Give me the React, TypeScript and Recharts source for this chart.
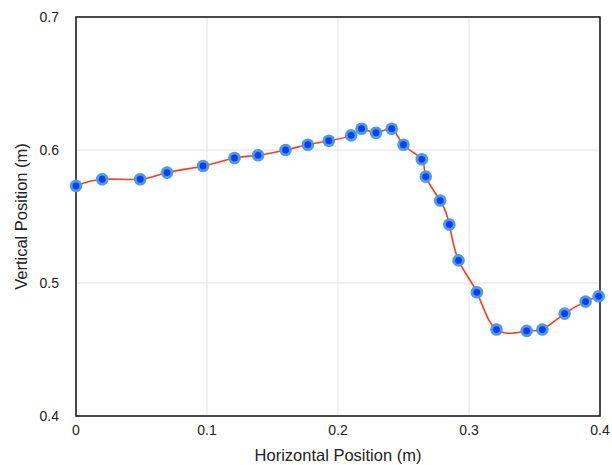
import { CartesianGrid, Line, LineChart, ReferenceArea, XAxis, YAxis } from 'recharts';

const horizontal = [
  0, 0.02, 0.049, 0.0695, 0.097, 0.121, 0.139, 0.16, 0.177, 0.193, 0.21, 0.218, 0.229, 0.241,
  0.25, 0.264, 0.267, 0.278, 0.285, 0.292, 0.306, 0.321, 0.344, 0.356, 0.373, 0.389, 0.399
];
const vertical = [
  0.573, 0.578, 0.578, 0.583, 0.588, 0.594, 0.596, 0.6, 0.604, 0.607, 0.611, 0.616, 0.613, 0.616,
  0.604, 0.593, 0.58, 0.562, 0.544, 0.517, 0.493, 0.465, 0.464, 0.465, 0.477, 0.486, 0.49
];
const xTicks = [0, 0.1, 0.2, 0.3, 0.4];
const yTicks = [0.4, 0.5, 0.6, 0.7];

const data = horizontal.map((x, i) => ({ x, y: vertical[i] }));

const FONT = '"Liberation Sans", Arial, sans-serif';

function Marker(props: { cx?: number; cy?: number; index?: number }) {
  const { cx, cy, index } = props;
  if (cx == null || cy == null) return null;
  return (
    <g key={`m-${index}`}>
      <circle cx={cx} cy={cy} r={6.3} fill="#4d9dd6" />
      <circle cx={cx} cy={cy} r={3.4} fill="#0a3cff" />
    </g>
  );
}

export default function App() {
  return (
    <div style={{ position: 'absolute', left: 0, top: 0, background: '#fff' }}>
      <style>{'body{margin:0}'}</style>
      <LineChart
        width={612}
        height={465}
        data={data}
        margin={{ top: 17, right: 12, bottom: 0, left: 26 }}
        style={{ fontFamily: FONT }}
      >
        <CartesianGrid stroke="#e3e3e3" strokeWidth={1} />
        <XAxis
          dataKey="x"
          type="number"
          domain={[0, 0.4]}
          ticks={xTicks}
          tickFormatter={(v: number) => String(v)}
          tickLine={false}
          tickSize={0}
          tickMargin={9}
          axisLine={false}
          height={49}
          tick={{ fill: '#222', fontSize: 14 }}
          label={{
            value: 'Horizontal Position (m)',
            position: 'insideBottom',
            offset: 4,
            fill: '#222',
            fontSize: 16.5
          }}
        />
        <YAxis
          dataKey="y"
          type="number"
          domain={[0.4, 0.7]}
          ticks={yTicks}
          tickFormatter={(v: number) => String(v)}
          tickLine={false}
          tickSize={0}
          tickMargin={17}
          axisLine={false}
          width={50}
          tick={{ fill: '#222', fontSize: 14 }}
          label={{
            value: 'Vertical Position (m)',
            angle: -90,
            position: 'insideLeft',
            offset: -5,
            style: { textAnchor: 'middle' },
            fill: '#222',
            fontSize: 16.5
          }}
        />
        <ReferenceArea x1={0} x2={0.4} y1={0.4} y2={0.7} fill="none" stroke="#111" strokeWidth={1.5} ifOverflow="visible" />
        <Line
          dataKey="y"
          type="natural"
          stroke="#ff3b1a"
          strokeWidth={1.6}
          dot={<Marker />}
          activeDot={false}
          isAnimationActive={false}
        />
      </LineChart>
    </div>
  );
}
